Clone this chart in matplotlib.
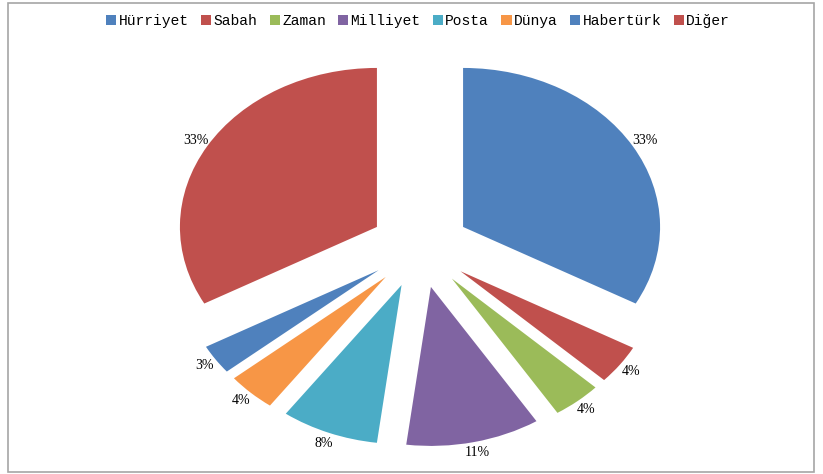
import matplotlib
matplotlib.use("Agg")
import matplotlib.pyplot as plt
from matplotlib.patches import Rectangle

categories = ["Hürriyet", "Sabah", "Zaman", "Milliyet", "Posta", "Dünya", "Habertürk", "Diğer"]
values = [33, 4, 4, 11, 8, 4, 3, 33]
colors = ["#4F81BD", "#C0504D", "#9BBB59", "#8064A2", "#4BACC6", "#F79646", "#4F81BD", "#C0504D"]

W, H = 823, 474
fig = plt.figure(figsize=(W / 100, H / 100), dpi=100)
ax = fig.add_axes([0, 0, 1, 1])

explode = [0.254] * len(values)
wedges, texts, autotexts = ax.pie(
    values, colors=colors, explode=explode, startangle=90, counterclock=False,
    autopct='%1.0f%%', pctdistance=1.07, radius=1.0,
    wedgeprops=dict(linewidth=0),
    textprops=dict(fontsize=10, family='Liberation Serif', color='black'))
ax.set_aspect('auto')
# pixel mapping: centre at (420, 247.5) from top; rx=197 px, ry=159 px
cx, cy = 420, H - 247.5
rx, ry = 197.0, 159.0
ax.set_xlim(-cx / rx, (W - cx) / rx)
ax.set_ylim(-cy / ry, (H - cy) / ry)
ax.axis('off')

leg = fig.legend(wedges, categories, loc='center', bbox_to_anchor=(418 / W, 1 - 21 / H),
                 ncol=8, frameon=False, handlelength=0.7, handleheight=0.7,
                 handletextpad=0.15, columnspacing=0.85,
                 prop=dict(family='Liberation Mono', size=10.5))

fig.patches.append(Rectangle((8 / W, 2 / H), (W - 9) / W - 8 / W, (H - 3) / H - 2 / H,
                             transform=fig.transFigure, fill=False,
                             edgecolor='#a6a6a6', linewidth=1.2))
fig.savefig("out.png", dpi=100)
